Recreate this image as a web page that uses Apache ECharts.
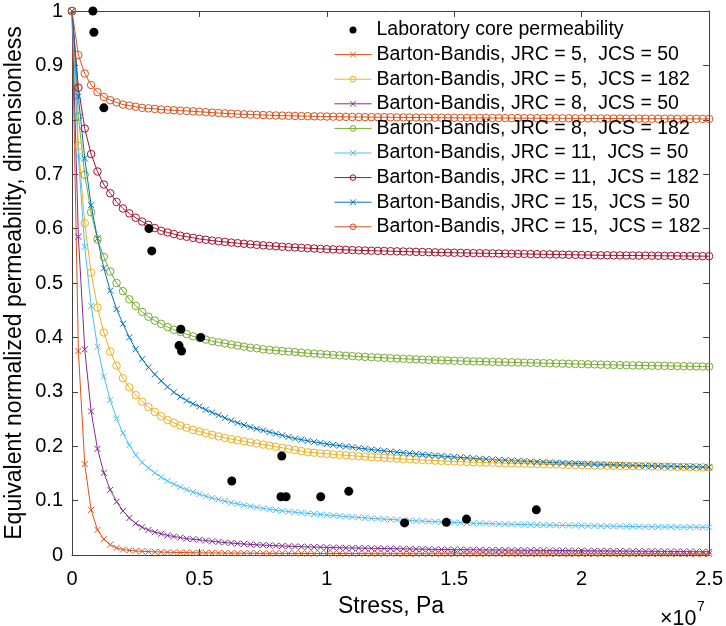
<!DOCTYPE html>
<html>
<head>
<meta charset="utf-8">
<script src="https://cdn.jsdelivr.net/npm/echarts@6/dist/echarts.min.js"></script>
<style>
html,body{margin:0;padding:0;background:#fff;}
#chart{width:726px;height:626px;}
</style>
</head>
<body>
<div id="chart"></div>
<script>
// Stress grid (Pa): the model curves are sampled every 2.5e5 Pa from 0 to 2.5e7 Pa
var stressStep = 2.5e5;

// Laboratory core permeability (scatter)
var labStress = [8.2e5, 8.6e5, 1.25e6, 3.02e6, 3.13e6, 4.27e6, 4.2e6, 4.3e6, 5.05e6, 8.23e6, 6.27e6, 8.2e6, 8.4e6, 9.76e6, 1.086e7, 1.305e7, 1.469e7, 1.548e7, 1.822e7];
var labPerm   = [1.0, 0.961, 0.822, 0.600, 0.559, 0.415, 0.385, 0.375, 0.400, 0.182, 0.136, 0.107, 0.107, 0.107, 0.117, 0.059, 0.060, 0.066, 0.083];

// Barton-Bandis curves (normalized permeability at each stress step)
var jrc5_jcs50 = [
 1, 0.375, 0.167, 0.083, 0.046, 0.029, 0.019, 0.013, 0.010, 0.0085,
 0.0075, 0.0068, 0.0062, 0.0058, 0.0054, 0.0051, 0.0048, 0.0046, 0.0044, 0.0042,
 0.0040, 0.0039, 0.0038, 0.0037, 0.0036, 0.0035, 0.0034, 0.0033, 0.0033, 0.0032,
 0.0031, 0.0031, 0.0030, 0.0030, 0.0029, 0.0029, 0.0029, 0.0028, 0.0028, 0.0028,
 0.0027, 0.0027, 0.0027, 0.0026, 0.0026, 0.0026, 0.0026, 0.0025, 0.0025, 0.0025,
 0.0025, 0.0024, 0.0024, 0.0024, 0.0024, 0.0024, 0.0023, 0.0023, 0.0023, 0.0023,
 0.0023, 0.0023, 0.0022, 0.0022, 0.0022, 0.0022, 0.0022, 0.0022, 0.0022, 0.0021,
 0.0021, 0.0021, 0.0021, 0.0021, 0.0021, 0.0021, 0.0021, 0.0020, 0.0020, 0.0020,
 0.0020, 0.0020, 0.0020, 0.0020, 0.0020, 0.0020, 0.0020, 0.0019, 0.0019, 0.0019,
 0.0019, 0.0019, 0.0019, 0.0019, 0.0019, 0.0019, 0.0019, 0.0019, 0.0018, 0.0018,
 0.0018];
var jrc5_jcs182 = [
 1, 0.752, 0.610, 0.519, 0.455, 0.409, 0.374, 0.348, 0.325, 0.308,
 0.294, 0.282, 0.272, 0.263, 0.255, 0.248, 0.243, 0.238, 0.234, 0.230,
 0.227, 0.224, 0.221, 0.218, 0.215, 0.213, 0.211, 0.209, 0.207, 0.205,
 0.203, 0.201, 0.199, 0.197, 0.195, 0.193, 0.191, 0.189, 0.188, 0.187,
 0.186, 0.185, 0.184, 0.1832, 0.1824, 0.1816, 0.1808, 0.1800, 0.1793, 0.1786,
 0.1779, 0.1772, 0.1765, 0.1759, 0.1753, 0.1747, 0.1741, 0.1735, 0.1730, 0.1725,
 0.1720, 0.1715, 0.1710, 0.1706, 0.1702, 0.1698, 0.1694, 0.1690, 0.1687, 0.1684,
 0.1681, 0.1678, 0.1675, 0.1672, 0.1669, 0.1666, 0.1663, 0.1660, 0.1657, 0.1654,
 0.1651, 0.1648, 0.1646, 0.1644, 0.1642, 0.1640, 0.1638, 0.1636, 0.1634, 0.1632,
 0.1630, 0.1628, 0.1626, 0.1624, 0.1622, 0.1620, 0.1618, 0.1616, 0.1614, 0.1612,
 0.1610];
var jrc8_jcs50 = [
 1, 0.585, 0.378, 0.264, 0.195, 0.151, 0.120, 0.098, 0.081, 0.068,
 0.058, 0.051, 0.046, 0.042, 0.039, 0.036, 0.034, 0.032, 0.030, 0.029,
 0.0280, 0.0265, 0.0252, 0.0240, 0.0229, 0.0219, 0.0210, 0.0202, 0.0195, 0.0188,
 0.0182, 0.0176, 0.0171, 0.0166, 0.0161, 0.0157, 0.0153, 0.0149, 0.0146, 0.0143,
 0.0140, 0.0137, 0.0134, 0.0131, 0.0129, 0.0127, 0.0125, 0.0123, 0.0121, 0.0119,
 0.0117, 0.0115, 0.0113, 0.0111, 0.0109, 0.0107, 0.0105, 0.0103, 0.0101, 0.0100,
 0.0099, 0.0098, 0.0097, 0.0096, 0.0095, 0.0094, 0.0093, 0.0092, 0.0091, 0.0090,
 0.0089, 0.0088, 0.0087, 0.0086, 0.0085, 0.0084, 0.0083, 0.0082, 0.0081, 0.0080,
 0.0079, 0.0078, 0.0077, 0.0076, 0.0075, 0.0074, 0.0073, 0.0072, 0.0071, 0.0070,
 0.0069, 0.0068, 0.0067, 0.0066, 0.0065, 0.0064, 0.0063, 0.0062, 0.0061, 0.0060,
 0.0060];
var jrc8_jcs182 = [
 1, 0.806, 0.699, 0.630, 0.580, 0.548, 0.521, 0.500, 0.485, 0.470,
 0.458, 0.447, 0.438, 0.431, 0.425, 0.419, 0.414, 0.410, 0.406, 0.402,
 0.399, 0.396, 0.393, 0.391, 0.389, 0.387, 0.385, 0.383, 0.381, 0.380,
 0.378, 0.377, 0.376, 0.375, 0.374, 0.373, 0.372, 0.371, 0.3702, 0.3694,
 0.3686, 0.3678, 0.3670, 0.3663, 0.3656, 0.3649, 0.3642, 0.3636, 0.3630, 0.3624,
 0.3618, 0.3612, 0.3607, 0.3602, 0.3597, 0.3592, 0.3587, 0.3583, 0.3579, 0.3575,
 0.3571, 0.3567, 0.3563, 0.3560, 0.3557, 0.3554, 0.3551, 0.3548, 0.3545, 0.3542,
 0.3539, 0.3536, 0.3533, 0.3530, 0.3527, 0.3524, 0.3521, 0.3518, 0.3515, 0.3512,
 0.3509, 0.3506, 0.3503, 0.3500, 0.3497, 0.3494, 0.3491, 0.3488, 0.3486, 0.3484,
 0.3482, 0.3480, 0.3478, 0.3476, 0.3474, 0.3472, 0.3470, 0.3468, 0.3466, 0.3464,
 0.3462];
var jrc11_jcs50 = [
 1, 0.733, 0.567, 0.458, 0.383, 0.328, 0.285, 0.251, 0.224, 0.202,
 0.184, 0.170, 0.160, 0.151, 0.143, 0.136, 0.130, 0.125, 0.120, 0.116,
 0.112, 0.108, 0.105, 0.102, 0.099, 0.096, 0.094, 0.0915, 0.0895, 0.0875,
 0.0857, 0.0840, 0.0825, 0.0811, 0.0798, 0.0786, 0.0775, 0.0765, 0.0755, 0.0745,
 0.0735, 0.0725, 0.0716, 0.0707, 0.0698, 0.0690, 0.0682, 0.0674, 0.0667, 0.0660,
 0.0653, 0.0646, 0.0640, 0.0634, 0.0628, 0.0622, 0.0617, 0.0612, 0.0607, 0.0602,
 0.0597, 0.0593, 0.0589, 0.0585, 0.0581, 0.0577, 0.0574, 0.0571, 0.0568, 0.0565,
 0.0562, 0.0559, 0.0556, 0.0553, 0.0551, 0.0549, 0.0547, 0.0545, 0.0543, 0.0541,
 0.0539, 0.0537, 0.0535, 0.0533, 0.0531, 0.0529, 0.0527, 0.0525, 0.0523, 0.0521,
 0.0519, 0.0518, 0.0517, 0.0516, 0.0515, 0.0514, 0.0513, 0.0512, 0.0511, 0.0510,
 0.0509];
var jrc11_jcs182 = [
 1, 0.859, 0.784, 0.737, 0.705, 0.681, 0.665, 0.649, 0.637, 0.628,
 0.620, 0.613, 0.607, 0.601, 0.596, 0.593, 0.590, 0.587, 0.585, 0.583,
 0.5810, 0.5795, 0.5780, 0.5767, 0.5755, 0.5743, 0.5732, 0.5721, 0.5711, 0.5701,
 0.5692, 0.5683, 0.5675, 0.5667, 0.5660, 0.5653, 0.5646, 0.5640, 0.5634, 0.5628,
 0.5623, 0.5618, 0.5613, 0.5609, 0.5605, 0.5601, 0.5597, 0.5594, 0.5591, 0.5588,
 0.5585, 0.5582, 0.5579, 0.5576, 0.5573, 0.5570, 0.5567, 0.5564, 0.5561, 0.5558,
 0.5556, 0.5554, 0.5552, 0.5550, 0.5548, 0.5546, 0.5544, 0.5542, 0.5540, 0.5538,
 0.5536, 0.5534, 0.5532, 0.5530, 0.5528, 0.5526, 0.5524, 0.5522, 0.5520, 0.5518,
 0.5516, 0.5514, 0.5512, 0.5510, 0.5509, 0.5508, 0.5507, 0.5506, 0.5505, 0.5504,
 0.5503, 0.5502, 0.5501, 0.5500, 0.5499, 0.5498, 0.5497, 0.5496, 0.5495, 0.5494,
 0.5493];
var jrc15_jcs50 = [
 1, 0.843, 0.729, 0.643, 0.582, 0.527, 0.486, 0.452, 0.425, 0.400,
 0.378, 0.360, 0.345, 0.332, 0.320, 0.309, 0.299, 0.291, 0.284, 0.278,
 0.273, 0.267, 0.262, 0.257, 0.252, 0.247, 0.243, 0.239, 0.235, 0.232,
 0.229, 0.226, 0.223, 0.220, 0.217, 0.214, 0.212, 0.210, 0.208, 0.206,
 0.2040, 0.2025, 0.2010, 0.1995, 0.1980, 0.1966, 0.1952, 0.1939, 0.1926, 0.1913,
 0.1901, 0.1890, 0.1879, 0.1868, 0.1858, 0.1848, 0.1838, 0.1829, 0.1820, 0.1811,
 0.1802, 0.1794, 0.1786, 0.1778, 0.1770, 0.1763, 0.1756, 0.1749, 0.1742, 0.1736,
 0.1730, 0.1724, 0.1718, 0.1712, 0.1707, 0.1702, 0.1697, 0.1692, 0.1687, 0.1683,
 0.1679, 0.1675, 0.1671, 0.1667, 0.1663, 0.1659, 0.1655, 0.1652, 0.1649, 0.1646,
 0.1643, 0.1640, 0.1637, 0.1634, 0.1631, 0.1628, 0.1625, 0.1622, 0.1619, 0.1616,
 0.1613];
var jrc15_jcs182 = [
 1, 0.919, 0.885, 0.864, 0.851, 0.842, 0.836, 0.832, 0.828, 0.826,
 0.824, 0.822, 0.821, 0.820, 0.819, 0.8182, 0.8175, 0.8168, 0.8162, 0.8156,
 0.8148, 0.8140, 0.8132, 0.8125, 0.8118, 0.8112, 0.8106, 0.8101, 0.8096, 0.8092,
 0.8088, 0.8084, 0.8080, 0.8077, 0.8074, 0.8071, 0.8068, 0.8066, 0.8064, 0.8062,
 0.8060, 0.8058, 0.8056, 0.8054, 0.8052, 0.8051, 0.8050, 0.8049, 0.8048, 0.8047,
 0.8046, 0.8045, 0.8044, 0.8043, 0.8042, 0.8041, 0.8040, 0.8039, 0.8038, 0.8037,
 0.8036, 0.8035, 0.8035, 0.8034, 0.8034, 0.8033, 0.8033, 0.8032, 0.8032, 0.8031,
 0.8031, 0.8030, 0.8030, 0.8029, 0.8029, 0.8028, 0.8028, 0.8027, 0.8027, 0.8026,
 0.8026, 0.8025, 0.8025, 0.8024, 0.8024, 0.8023, 0.8023, 0.8022, 0.8022, 0.8021,
 0.8021, 0.8020, 0.8020, 0.8019, 0.8019, 0.8018, 0.8018, 0.8017, 0.8017, 0.8016,
 0.8016];

// Tick labels
var xTickLabels = ['0', '0.5', '1', '1.5', '2', '2.5'];
var yTickLabels = ['0', '0.1', '0.2', '0.3', '0.4', '0.5', '0.6', '0.7', '0.8', '0.9', '1'];

var curveNames = [
  'Barton-Bandis, JRC = 5,  JCS = 50',
  'Barton-Bandis, JRC = 5,  JCS = 182',
  'Barton-Bandis, JRC = 8,  JCS = 50',
  'Barton-Bandis, JRC = 8,  JCS = 182',
  'Barton-Bandis, JRC = 11,  JCS = 50',
  'Barton-Bandis, JRC = 11,  JCS = 182',
  'Barton-Bandis, JRC = 15,  JCS = 50',
  'Barton-Bandis, JRC = 15,  JCS = 182'
];
var curveData = [jrc5_jcs50, jrc5_jcs182, jrc8_jcs50, jrc8_jcs182, jrc11_jcs50, jrc11_jcs182, jrc15_jcs50, jrc15_jcs182];
var curveColors = ['#D95319', '#EDB120', '#7E2F8E', '#77AC30', '#4DBEEE', '#A2142F', '#0072BD', '#D95319'];
var curveMarkers = ['x', 'o', 'x', 'o', 'x', 'o', 'x', 'o'];

var FONT = '"Liberation Sans", Arial, Helvetica, sans-serif';
var FS = 19.5;
var TICKFS = 20;
var TITLEFS = 23;
var XPATH = 'path://M0,0L10,10M10,0L0,10';

function pairs(ys) {
  var out = [];
  for (var i = 0; i < ys.length; i++) out.push([i * stressStep, ys[i]]);
  return out;
}

var series = [{
  name: 'Laboratory core permeability',
  type: 'scatter',
  symbol: 'circle',
  symbolSize: 9,
  itemStyle: { color: '#000', opacity: 1 },
  data: labStress.map(function (s, i) { return [s, labPerm[i]]; }),
  z: 5
}];
var legendData = [{ name: 'Laboratory core permeability', icon: 'circle', itemStyle: { color: '#000', opacity: 1 } }];
curveData.forEach(function (ys, k) {
  var c = curveColors[k];
  var isX = curveMarkers[k] === 'x';
  series.push({
    name: curveNames[k],
    type: 'line',
    data: pairs(ys),
    symbol: isX ? XPATH : 'circle',
    symbolSize: isX ? 6 : 7.5,
    showAllSymbol: true,
    lineStyle: { color: c, width: 1 },
    itemStyle: isX ? { color: c, borderColor: c, borderWidth: 1 }
                   : { color: 'rgba(255,255,255,0)', borderColor: c, borderWidth: 1 },
    z: 3
  });
  legendData.push({ name: curveNames[k] });
});

var axisLineStyle = { color: '#404040', width: 1 };
var chart = echarts.init(document.getElementById('chart'), null, { renderer: 'canvas' });
chart.setOption({
  animation: false,
  backgroundColor: '#fff',
  grid: { left: 72, right: 16, top: 11, bottom: 71, containLabel: false },
  legend: {
    orient: 'vertical',
    left: 329,
    top: 15,
    itemWidth: 37,
    itemHeight: 7,
    itemGap: 4.6,
    lineStyle: { width: 1 },
    itemStyle: { borderWidth: 1 },
    textStyle: { fontFamily: FONT, fontSize: FS, color: '#000', lineHeight: 20 },
    data: legendData,
    selectedMode: false
  },
  xAxis: [{
    type: 'value', position: 'bottom', min: 0, max: 2.5e7, interval: 5e6,
    axisLine: { show: true, onZero: false, lineStyle: axisLineStyle },
    axisTick: { show: true, inside: true, length: 6, lineStyle: axisLineStyle },
    axisLabel: { margin: 14, fontFamily: FONT, fontSize: TICKFS, color: '#000',
      formatter: function (v) { return xTickLabels[Math.round(v / 5e6)]; } },
    splitLine: { show: false }
  }, {
    type: 'value', position: 'top', min: 0, max: 2.5e7, interval: 5e6,
    axisLine: { show: true, onZero: false, lineStyle: axisLineStyle },
    axisTick: { show: true, inside: true, length: 6, lineStyle: axisLineStyle },
    axisLabel: { show: false },
    splitLine: { show: false }
  }],
  yAxis: [{
    type: 'value', position: 'left', min: 0, max: 1, interval: 0.1,
    axisLine: { show: true, onZero: false, lineStyle: axisLineStyle },
    axisTick: { show: true, inside: true, length: 6, lineStyle: axisLineStyle },
    axisLabel: { margin: 9, fontFamily: FONT, fontSize: TICKFS, color: '#000',
      formatter: function (v) { return yTickLabels[Math.round(v * 10)]; } },
    splitLine: { show: false }
  }, {
    type: 'value', position: 'right', min: 0, max: 1, interval: 0.1,
    axisLine: { show: true, onZero: false, lineStyle: axisLineStyle },
    axisTick: { show: true, inside: true, length: 6, lineStyle: axisLineStyle },
    axisLabel: { show: false },
    splitLine: { show: false }
  }],
  graphic: [
    { type: 'text', x: 391, y: 607,
      style: { text: 'Stress, Pa', fontFamily: FONT, fontSize: TITLEFS, fill: '#000', textAlign: 'center', textVerticalAlign: 'middle' } },
    { type: 'text', x: 15, y: 283, rotation: Math.PI / 2,
      style: { text: 'Equivalent normalized permeability, dimensionless', fontFamily: FONT, fontSize: TITLEFS, fill: '#000', textAlign: 'center', textVerticalAlign: 'middle' } },
    { type: 'text', x: 660, y: 619,
      style: { text: '\u00d710', fontFamily: FONT, fontSize: 21.5, fill: '#000', textAlign: 'left', textVerticalAlign: 'middle' } },
    { type: 'text', x: 697, y: 607,
      style: { text: '7', fontFamily: FONT, fontSize: 14, fill: '#000', textAlign: 'left', textVerticalAlign: 'middle' } }
  ],
  series: series
});
</script>
</body>
</html>
